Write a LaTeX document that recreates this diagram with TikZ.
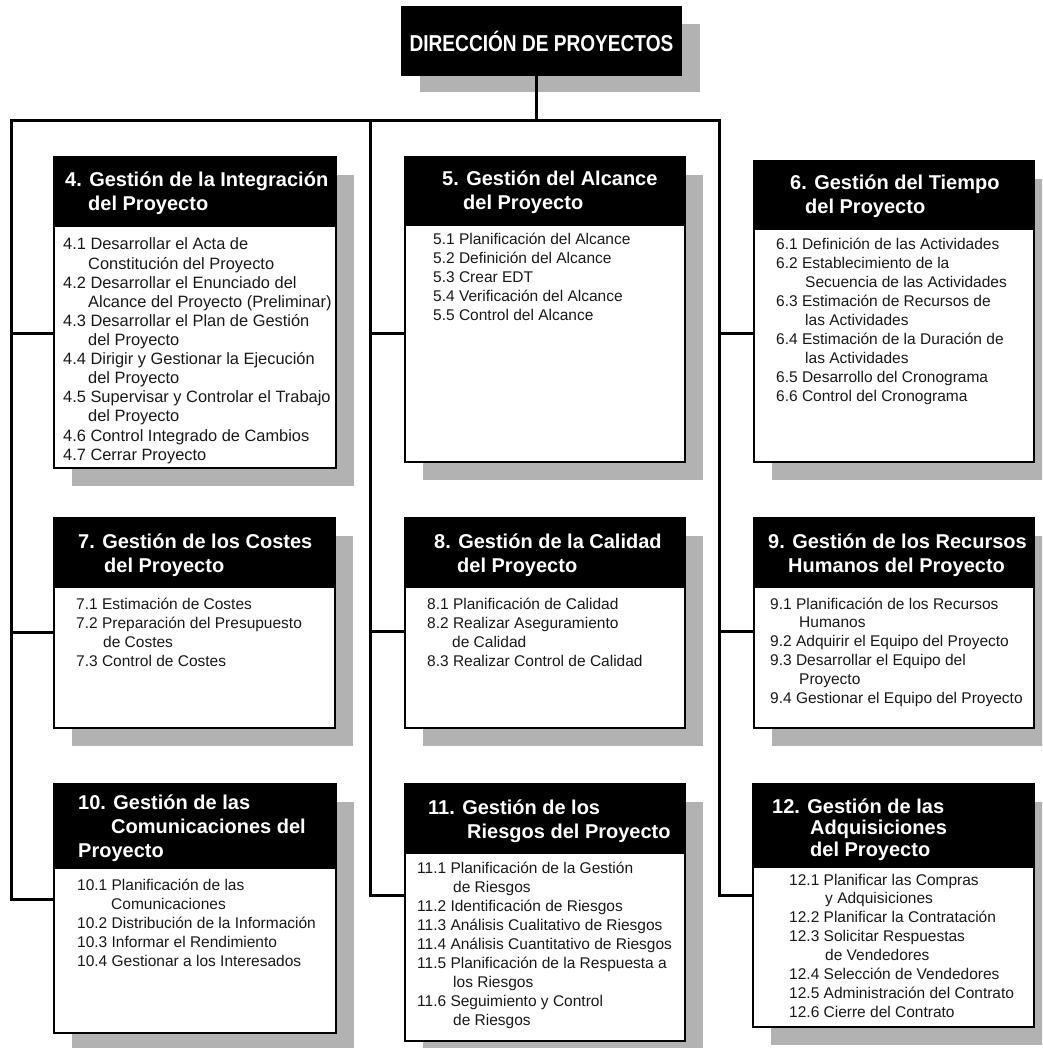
\documentclass[tikz,border=0pt]{standalone}
\usepackage{fontspec}
\setmainfont{Liberation Sans}
\usepackage{graphicx}
\definecolor{shadowgray}{RGB}{178,178,178}
\definecolor{bodyink}{RGB}{25,25,25}
\newcommand\ind[1]{\hspace*{#1pt}}
\newcommand\pmbox[6]{%
  \fill[shad] ({#2+18},{#3+18}) rectangle ({#4+18},{#5+18});
  \node[boxst, minimum width={#4-#2}, minimum height={#5-#3}] (#1) at (#2,#3) {};
  \node[hdrst, minimum width={#4-#2}, minimum height={#6-#3}] (#1h) at (#2,#3) {};
}
\tikzset{
  conn/.style={line width=3pt, line join=miter, draw=black},
  boxst/.style={rectangle, draw=black, line width=1.6pt, fill=white, inner sep=0pt, outer sep=0pt, anchor=north west},
  hdrst/.style={rectangle, draw=black, line width=1.6pt, fill=black, inner sep=0pt, outer sep=0pt, anchor=north west},
  shad/.style={fill=shadowgray},
  htext/.style={text=white, font=\bfseries\fontsize{20}{24}\selectfont, anchor=base west, inner sep=0pt},
  btext/.style={text=bodyink, font=\fontsize{15.5}{19}\selectfont, anchor=base west, inner sep=0pt},
}
\begin{document}
\begin{tikzpicture}[x=1pt,y=-1pt]
\useasboundingbox (0,0) rectangle (1042,1048);
\clip (0,0) rectangle (1042,1048);

% top box
\fill[shad] (420,24) rectangle (700,92);
\node[hdrst, minimum width=279, minimum height=68, text=white, font=\bfseries\fontsize{23}{24}\selectfont] (top) at (402,7) {\scalebox{0.83}[1]{DIRECCIÓN DE PROYECTOS}};

% connectors
\coordinate (bar) at (536,121);
\coordinate (Ltop) at (11,121);
\coordinate (Mtop) at (370,121);
\coordinate (Rtop) at (719,121);
\coordinate (L4) at (11,333);
\coordinate (L7) at (11,632);
\coordinate (L10) at (11,899);
\coordinate (M5) at (370,333);
\coordinate (M8) at (370,631);
\coordinate (M11) at (370,895);
\coordinate (R6) at (719,333);
\coordinate (R9) at (719,631);
\coordinate (R12) at (719,895);

% boxes
\pmbox{b4}{54}{157}{336}{468}{226}
\pmbox{b5}{405}{157}{685}{462}{225}
\pmbox{b6}{754}{161}{1034}{462}{229}
\pmbox{b7}{54}{518}{335}{728}{587}
\pmbox{b8}{405}{518}{685}{728}{587}
\pmbox{b9}{754}{518}{1034}{728}{587}
\pmbox{b10}{54}{784}{336}{1033}{868}
\pmbox{b11}{405}{784}{685}{1041}{853}
\pmbox{b12}{753}{784}{1034}{1027}{867}

\draw[conn] (top.south -| bar) -- (bar);
\draw[conn] (L10 -| b10.west) -- (L10) -- (Ltop) -- (Rtop) -- (R12) -- (R12 -| b12.west);
\draw[conn] (Mtop) -- (M11) -- (M11 -| b11.west);
\draw[conn] (L4) -- (L4 -| b4.west);
\draw[conn] (L7) -- (L7 -| b7.west);
\draw[conn] (M5) -- (M5 -| b5.west);
\draw[conn] (M8) -- (M8 -| b8.west);
\draw[conn] (R6) -- (R6 -| b6.west);
\draw[conn] (R9) -- (R9 -| b9.west);

% header texts
\node[htext] (h4t) at (65,187) {\parbox[t]{280pt}{\raggedright 4. Gestión de la Integración\\\ind{23}del Proyecto}};
\node[htext] (h5t) at (442,186) {\parbox[t]{280pt}{\raggedright 5. Gestión del Alcance\\\ind{21}del Proyecto}};
\node[htext] (h6t) at (790,190) {\parbox[t]{280pt}{\raggedright 6. Gestión del Tiempo\\\ind{15}del Proyecto}};
\node[htext] (h7t) at (78,548) {\parbox[t]{280pt}{\raggedright 7. Gestión de los Costes\\\ind{26}del Proyecto}};
\node[htext] (h8t) at (434,548) {\parbox[t]{280pt}{\raggedright 8. Gestión de la Calidad\\\ind{23}del Proyecto}};
\node[htext] (h9t) at (768,548) {\parbox[t]{280pt}{\raggedright 9. Gestión de los Recursos\\\ind{20}Humanos del Proyecto}};
\node[htext] (h10t) at (78,809) {\parbox[t]{280pt}{\raggedright 10. Gestión de las\\\ind{33}Comunicaciones del\\Proyecto}};
\node[htext] (h11t) at (428,814) {\parbox[t]{280pt}{\raggedright 11. Gestión de los\\\ind{39}Riesgos del Proyecto}};
\node[htext, font=\bfseries\fontsize{20}{21.5}\selectfont] (h12t) at (772,813) {\parbox[t]{280pt}{\raggedright 12. Gestión de las\\\ind{38}Adquisiciones\\\ind{38}del Proyecto}};

% body texts
\node[btext, font=\fontsize{16.4}{19.1}\selectfont] (t4) at (63,250) {\parbox[t]{300pt}{\raggedright
4.1 Desarrollar el Acta de\\\ind{25}Constitución del Proyecto\\
4.2 Desarrollar el Enunciado del\\\ind{25}Alcance del Proyecto (Preliminar)\\
4.3 Desarrollar el Plan de Gestión\\\ind{25}del Proyecto\\
4.4 Dirigir y Gestionar la Ejecución\\\ind{25}del Proyecto\\
4.5 Supervisar y Controlar el Trabajo\\\ind{25}del Proyecto\\
4.6 Control Integrado de Cambios\\
4.7 Cerrar Proyecto}};
\node[btext] (t5) at (433,245) {\parbox[t]{300pt}{\raggedright
5.1 Planificación del Alcance\\
5.2 Definición del Alcance\\
5.3 Crear EDT\\
5.4 Verificación del Alcance\\
5.5 Control del Alcance}};
\node[btext] (t6) at (776,250) {\parbox[t]{300pt}{\raggedright
6.1 Definición de las Actividades\\
6.2 Establecimiento de la\\\ind{29}Secuencia de las Actividades\\
6.3 Estimación de Recursos de\\\ind{29}las Actividades\\
6.4 Estimación de la Duración de\\\ind{29}las Actividades\\
6.5 Desarrollo del Cronograma\\
6.6 Control del Cronograma}};
\node[btext] (t7) at (76,609) {\parbox[t]{300pt}{\raggedright
7.1 Estimación de Costes\\
7.2 Preparación del Presupuesto\\\ind{27}de Costes\\
7.3 Control de Costes}};
\node[btext] (t8) at (427,609) {\parbox[t]{300pt}{\raggedright
8.1 Planificación de Calidad\\
8.2 Realizar Aseguramiento\\\ind{25}de Calidad\\
8.3 Realizar Control de Calidad}};
\node[btext, font=\fontsize{15.5}{18.8}\selectfont] (t9) at (770,609) {\parbox[t]{300pt}{\raggedright
9.1 Planificación de los Recursos\\\ind{29}Humanos\\
9.2 Adquirir el Equipo del Proyecto\\
9.3 Desarrollar el Equipo del\\\ind{29}Proyecto\\
9.4 Gestionar el Equipo del Proyecto}};
\node[btext] (t10) at (77,890) {\parbox[t]{300pt}{\raggedright
10.1 Planificación de las\\\ind{34}Comunicaciones\\
10.2 Distribución de la Información\\
10.3 Informar el Rendimiento\\
10.4 Gestionar a los Interesados}};
\node[btext] (t11) at (417,873) {\parbox[t]{300pt}{\raggedright
11.1 Planificación de la Gestión\\\ind{36}de Riesgos\\
11.2 Identificación de Riesgos\\
11.3 Análisis Cualitativo de Riesgos\\
11.4 Análisis Cuantitativo de Riesgos\\
11.5 Planificación de la Respuesta a\\\ind{36}los Riesgos\\
11.6 Seguimiento y Control\\\ind{36}de Riesgos}};
\node[btext, font=\fontsize{15.5}{18.9}\selectfont] (t12) at (789,885) {\parbox[t]{300pt}{\raggedright
12.1 Planificar las Compras\\\ind{36}y Adquisiciones\\
12.2 Planificar la Contratación\\
12.3 Solicitar Respuestas\\\ind{36}de Vendedores\\
12.4 Selección de Vendedores\\
12.5 Administración del Contrato\\
12.6 Cierre del Contrato}};
\end{tikzpicture}
\end{document}
